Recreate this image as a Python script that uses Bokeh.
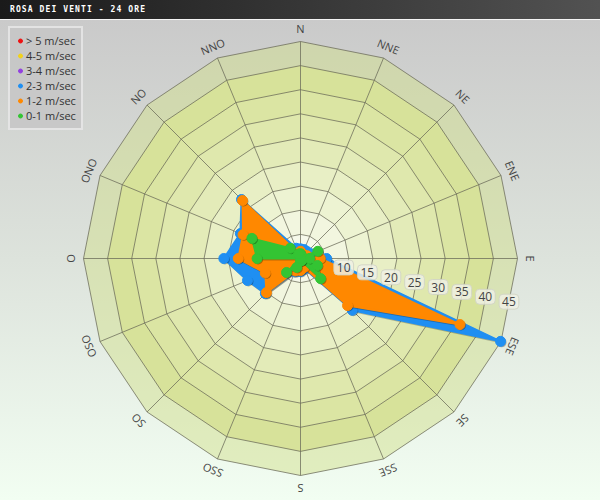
import numpy as np
from bokeh.plotting import figure
from bokeh.models import Range1d, Legend, LegendItem, Div
from bokeh.layouts import column
from bokeh.embed import file_html
from bokeh.resources import INLINE
from bokeh.core.properties import value

# ---------------- data ----------------
title_text = "ROSA DEI VENTI - 24 ORE"
directions = ["N", "NNE", "NE", "ENE", "E", "ESE", "SE", "SSE",
              "S", "SSO", "SO", "OSO", "O", "ONO", "NO", "NNO"]
ring_values = [5, 10, 15, 20, 25, 30, 35, 40, 45]
tick_values = [10, 15, 20, 25, 30, 35, 40, 45]
tick_labels = ["10", "15", "20", "25", "30", "35", "40", "45"]

series_names = ["> 5 m/sec", "4-5 m/sec", "3-4 m/sec", "2-3 m/sec", "1-2 m/sec", "0-1 m/sec"]
series_colors = ["#ee1111", "#f2d21a", "#9340e0", "#1f8ff2", "#ff8800", "#33c433"]

speed_gt5 = [0, 0, 0, 0, 0, 0, 0, 0, 0, 0, 0, 0, 0, 0, 0, 0]
speed_4_5 = [0, 0, 0, 0, 0, 0, 0, 0, 0, 0, 0, 0, 0, 0, 0, 0]
speed_3_4 = [0, 0, 0, 0, 0, 0, 0, 0, 0, 0, 0, 0, 0, 0, 0, 0]
speed_2_3 = [2.0, 2.0, 2.0, 2.5, 5.4, 44.9, 15.2, 2.3, 2.7, 3.0, 10.3, 11.9, 15.9, 13.5, 17.3, 2.3]
speed_1_2 = [1.5, 1.0, 1.0, 1.5, 4.1, 35.8, 13.8, 2.0, 2.5, 2.8, 10.0, 7.9, 12.9, 12.9, 17.0, 1.2]
speed_0_1 = [1.0, 0.5, 0.5, 3.9, 1.9, 3.8, 5.9, 0.5, 0.5, 2.0, 4.1, 0.0, 9.0, 10.9, 3.0, 1.0]
series_values = [speed_gt5, speed_4_5, speed_3_4, speed_2_3, speed_1_2, speed_0_1]

# ---------------- geometry / style ----------------
TITLE_H = 20
W, H = 600, 480
R_PX = 217.0
R_MAX = 45.0
S = R_PX / R_MAX
CX, CY = 300.0, 238.0
PX = 1.0 / S

theta = np.deg2rad(np.arange(len(directions)) * 360.0 / len(directions))

def polar(r):
    r = np.asarray(r, dtype=float)
    return r * np.sin(theta), r * np.cos(theta)

p = figure(width=W, height=H, output_backend="svg", toolbar_location=None,
           x_range=Range1d(-CX / S, (W - CX) / S),
           y_range=Range1d(-(H - CY) / S, CY / S),
           min_border=0)
p.axis.visible = False
p.grid.visible = False
p.outline_line_color = None
p.background_fill_alpha = 0
p.border_fill_alpha = 0
p.styles = {"background": "linear-gradient(to bottom, #cacaca 0%, #dde3dc 50%, #f2fef2 100%)"}

# bands (outer -> inner)
band_colors = ["#f6f9ea", "#f2f6df", "#edf3d2", "#e8efc5", "#e3ebb8", "#dfe8ad",
               "#dbe5a3", "#d7e29a", "#d2e08e"]
band_alpha = [1, 1, 1, 1, 1, 1, 1, 1, 0.5]
for i in reversed(range(len(ring_values))):
    bx, by = polar([ring_values[i]] * len(directions))
    p.patch(list(bx), list(by), fill_color=band_colors[i], fill_alpha=band_alpha[i],
            line_color=None)

# rings
ring_xs, ring_ys = [], []
for v in ring_values:
    bx, by = polar([v] * len(directions))
    ring_xs.append(list(bx) + [bx[0]])
    ring_ys.append(list(by) + [by[0]])
p.multi_line(ring_xs, ring_ys, line_color="#6a6a58", line_alpha=0.75, line_width=1)

# spokes
sx, sy = polar([R_MAX] * len(directions))
p.segment(x0=[0] * len(directions), y0=[0] * len(directions), x1=list(sx), y1=list(sy),
          line_color="#6a6a58", line_alpha=0.75, line_width=1)

# series
legend_items = []
for name, col, vals in zip(series_names, series_colors, series_values):
    x, y = polar(vals)
    x, y = list(x), list(y)
    xs_sh = [a + PX for a in x]
    ys_sh = [b - PX for b in y]
    p.patch(xs_sh, ys_sh, fill_alpha=0, line_color="black", line_alpha=0.25, line_width=2)
    p.patch(x, y, fill_color=col, fill_alpha=1, line_color=col, line_width=2)
    p.scatter(xs_sh, ys_sh, size=10, fill_color="black", fill_alpha=0.3, line_color=None)
    r = p.scatter(x, y, size=10, fill_color=col, line_color=col, line_width=1)
    legend_items.append(LegendItem(label=name, renderers=[r]))

# direction labels
lx, ly = polar([R_MAX + 2.6] * len(directions))
p.text(x=list(lx), y=list(ly), text=directions, angle=list(-theta),
       text_align="center", text_baseline="middle",
       text_font=value("Open Sans"), text_font_size="11px", text_color="#444444")

# radial tick labels
ang = np.deg2rad(101.7)
tv = np.array(tick_values, dtype=float) - 0.85
p.text(x=list(tv * np.sin(ang)), y=list(tv * np.cos(ang)), text=tick_labels,
       text_align="center", text_baseline="middle",
       text_font=value("Open Sans"), text_font_size="12px", text_color="#444444",
       background_fill_color="#eef0e4", background_fill_alpha=0.85,
       border_line_color="#d0d4c4", border_line_alpha=0.9,
       padding=3, border_radius=4)

legend = Legend(items=legend_items, location=(8, 370))
legend.background_fill_color = "#c6c6c6"
legend.background_fill_alpha = 0.9
legend.border_line_color = "#ffffff"
legend.border_line_width = 2
legend.label_text_font = "Open Sans"
legend.label_text_font_size = "11px"
legend.label_text_color = "#333333"
legend.glyph_width = 10
legend.glyph_height = 13
legend.label_height = 13
legend.spacing = 0
legend.padding = 5
legend.margin = 0
legend.label_standoff = 1
p.add_layout(legend)

title_div = Div(
    text=('<div style="width:600px;height:20px;line-height:19px;box-sizing:border-box;'
          'border-bottom:1px solid #f4f4f4;background:linear-gradient(to right,#1a1a1a,#525252);'
          "color:#ffffff;font-family:'DejaVu Sans Mono';font-weight:bold;font-size:8px;"
          'letter-spacing:1.1px;padding-left:10px;white-space:nowrap;">' + title_text + '</div>'),
    width=600, height=TITLE_H, margin=(0, 0, 0, 0))

layout = column(title_div, p, spacing=0)
open("out.html", "w").write(file_html(layout, INLINE))
